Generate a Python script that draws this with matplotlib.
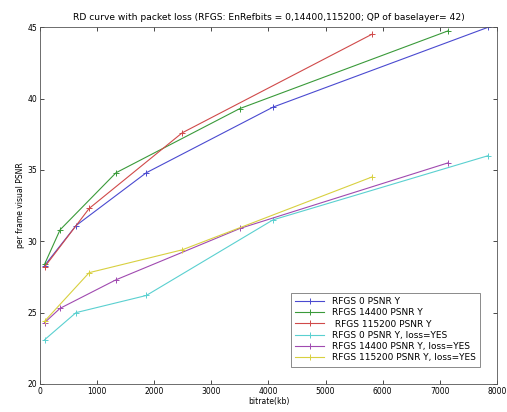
import numpy as np
import matplotlib
matplotlib.use('Agg')
import matplotlib.pyplot as plt

# bitrate (kb) and PSNR values
x_rfgs0 = [80, 630, 1860, 4080, 7850]
x_rfgs14400 = [80, 350, 1330, 3500, 7150]
x_rfgs115200 = [80, 860, 2490, 5810]

psnr_rfgs0 = [28.3, 31.1, 34.8, 39.4, 45.0]
psnr_rfgs14400 = [28.4, 30.8, 34.8, 39.3, 44.75]
psnr_rfgs115200 = [28.2, 32.3, 37.6, 44.5]

psnr_rfgs0_loss = [23.1, 25.0, 26.2, 31.5, 36.0]
psnr_rfgs14400_loss = [24.3, 25.3, 27.3, 30.9, 35.5]
psnr_rfgs115200_loss = [24.4, 27.8, 29.4, 34.5]

labels = ['RFGS 0 PSNR Y', 'RFGS 14400 PSNR Y', ' RFGS 115200 PSNR Y',
          'RFGS 0 PSNR Y, loss=YES', 'RFGS 14400 PSNR Y, loss=YES',
          'RFGS 115200 PSNR Y, loss=YES']

fig = plt.figure(figsize=(5.07, 4.12), dpi=100)
ax = fig.add_axes([0.079, 0.068, 0.901, 0.866])

series = [
    (x_rfgs0, psnr_rfgs0, '#4a4ad0'),
    (x_rfgs14400, psnr_rfgs14400, '#3a9a3a'),
    (x_rfgs115200, psnr_rfgs115200, '#d04a4a'),
    (x_rfgs0, psnr_rfgs0_loss, '#5ad0d0'),
    (x_rfgs14400, psnr_rfgs14400_loss, '#a04ab0'),
    (x_rfgs115200, psnr_rfgs115200_loss, '#d8d040'),
]
for (xs, ys, c), lab in zip(series, labels):
    ax.plot(xs, ys, color=c, lw=0.8, marker='+', ms=4, mew=0.7, label=lab)

ax.set_xlim(0, 8000)
ax.set_ylim(20, 45)
ax.set_xticks(np.arange(0, 8001, 1000))
ax.set_yticks(np.arange(20, 46, 5))
ax.tick_params(direction='in', top=True, right=True, labelsize=5.5,
               length=3, width=0.5, pad=2)
for s in ax.spines.values():
    s.set_linewidth(0.6)
    s.set_color('#555555')

ax.set_title('RD curve with packet loss (RFGS: EnRefbits = 0,14400,115200; QP of baselayer= 42)',
             fontsize=6.6, pad=5)
ax.set_xlabel('bitrate(kb)', fontsize=5.5, labelpad=1)
ax.set_ylabel('per frame visual PSNR', fontsize=5.5, labelpad=2)

leg = ax.legend(loc='lower right', bbox_to_anchor=(0.963, 0.048),
                borderaxespad=0, fontsize=6.5, fancybox=False,
                handlelength=3.2, labelspacing=0.25, borderpad=0.5)
leg.get_frame().set_edgecolor('#555555')
leg.get_frame().set_linewidth(0.6)

fig.savefig('out.png', dpi=100)
